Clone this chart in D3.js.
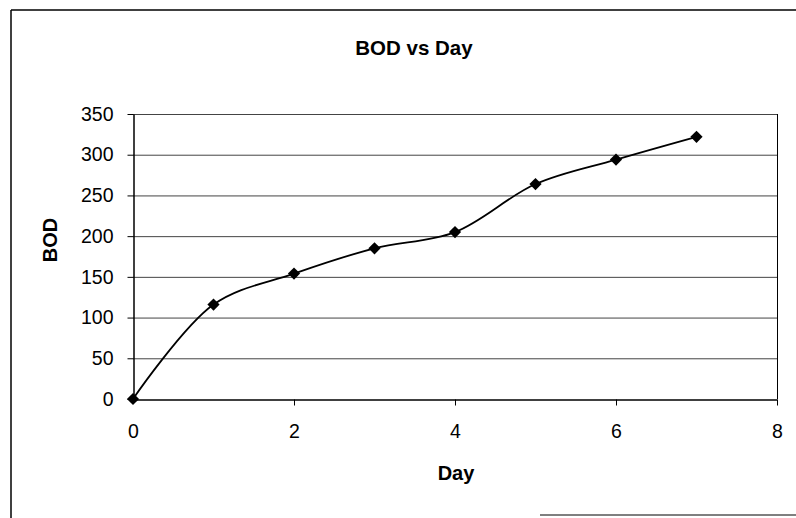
<!DOCTYPE html>
<html>
<head>
<meta charset="utf-8">
<script src="https://cdn.jsdelivr.net/npm/d3@7"></script>
<style>
  body { margin: 0; background: #fff; }
  text { font-family: "Liberation Sans", Arial, sans-serif; fill: #000; }
</style>
</head>
<body>
<svg class="svg" width="796" height="518"></svg>
<script>
// données
const days = [0, 1, 2, 3, 4, 5, 6, 7];
const bod = [0, 116, 154, 185, 205, 264, 294, 322];
const xTicks = [0, 2, 4, 6, 8];
const yTicks = [0, 50, 100, 150, 200, 250, 300, 350];

const svg = d3.select(".svg");

const plotLeft = 133, plotRight = 777, plotTop = 114, plotBottom = 399;

const x = d3.scaleLinear().domain([0, 8]).range([plotLeft, plotRight]);
const y = d3.scaleLinear().domain([0, 350]).range([plotBottom, plotTop]);

// cadre du graphique (scan coupé à droite)
svg.append("line").attr("x1", 11).attr("y1", 10).attr("x2", 796).attr("y2", 10)
  .attr("stroke", "#000").attr("stroke-width", 1.5);
svg.append("line").attr("x1", 11).attr("y1", 10).attr("x2", 11).attr("y2", 518)
  .attr("stroke", "#000").attr("stroke-width", 1.5);
svg.append("line").attr("x1", 540).attr("y1", 515).attr("x2", 796).attr("y2", 515)
  .attr("stroke", "#000").attr("stroke-width", 1);

// grille horizontale
svg.append("g").selectAll("line")
  .data(yTicks.filter(d => d > 0))
  .enter().append("line")
  .attr("x1", plotLeft).attr("x2", plotRight)
  .attr("y1", d => y(d) + 0.5).attr("y2", d => y(d) + 0.5)
  .attr("stroke", "#444").attr("stroke-width", 1);

// bord droit de la zone de tracé
svg.append("line").attr("x1", plotRight + 0.5).attr("x2", plotRight + 0.5)
  .attr("y1", plotTop).attr("y2", plotBottom).attr("stroke", "#000");

// axes
const xAxis = svg.append("g").attr("transform", `translate(0,${plotBottom + 0.5})`)
  .call(d3.axisBottom(x).tickValues(xTicks).tickSize(6).tickPadding(19).tickSizeOuter(0));
const yAxis = svg.append("g").attr("transform", `translate(${plotLeft + 0.5},0)`)
  .call(d3.axisLeft(y).tickValues(yTicks).tickSize(6).tickPadding(14).tickSizeOuter(0));

[xAxis, yAxis].forEach(a => {
  a.select(".domain").attr("stroke", "#000").attr("stroke-width", 1.5);
  a.selectAll(".tick line").attr("stroke", "#000");
  a.selectAll(".tick text").attr("font-size", 19.5).attr("fill", "#000")
    .style("font-family", "'Liberation Sans', Arial, sans-serif");
});
xAxis.selectAll(".tick line").filter(d => d === 0).remove();

// courbe lissée
const line = d3.line()
  .x((d, i) => x(days[i]))
  .y(d => y(d))
  .curve(d3.curveCatmullRom.alpha(0.5));

svg.append("path").datum(bod)
  .attr("d", line)
  .attr("fill", "none").attr("stroke", "#000").attr("stroke-width", 1.8);

// marqueurs en losange
svg.append("g").selectAll("path")
  .data(bod)
  .enter().append("path")
  .attr("d", d3.symbol().type(d3.symbolDiamond2).size(95))
  .attr("transform", (d, i) => `translate(${x(days[i])},${y(d)})`)
  .attr("fill", "#000");

// titres
svg.append("text").text("BOD vs Day").attr("x", 414).attr("y", 55)
  .attr("text-anchor", "middle").attr("font-size", 20.5).attr("font-weight", "bold");
svg.append("text").text("Day").attr("x", 456).attr("y", 480)
  .attr("text-anchor", "middle").attr("font-size", 20).attr("font-weight", "bold");
svg.append("text").text("BOD")
  .attr("transform", `translate(57,240) rotate(-90)`)
  .attr("text-anchor", "middle").attr("font-size", 20).attr("font-weight", "bold");
</script>
</body>
</html>
